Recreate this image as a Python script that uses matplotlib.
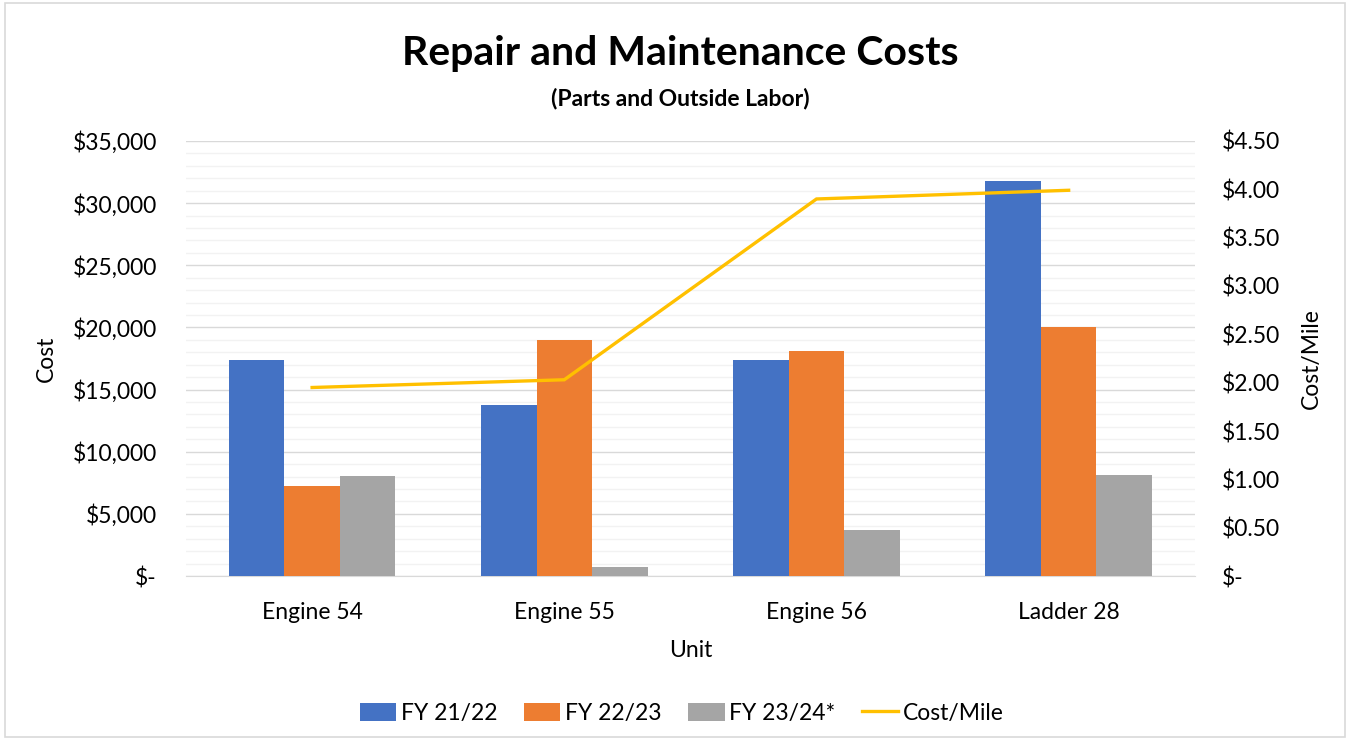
import numpy as np
import matplotlib.pyplot as plt
from matplotlib.ticker import FuncFormatter, MultipleLocator
from matplotlib.patches import Rectangle

plt.rcParams['font.family'] = ['Lato', 'DejaVu Sans']

units = ["Engine 54", "Engine 55", "Engine 56", "Ladder 28"]
fy2122 = [17400, 13750, 17350, 31800]
fy2223 = [7250, 19000, 18100, 20000]
fy2324 = [8050, 700, 3700, 8100]
cost_per_mile = [1.95, 2.03, 3.90, 3.99]
series_names = ["FY 21/22", "FY 22/23", "FY 23/24*"]
colors = ["#4472C4", "#ED7D31", "#A5A5A5"]

fig = plt.figure(figsize=(13.5, 7.4), dpi=100)
ax = fig.add_axes([0.1378, 0.2216, 0.7472, 0.5879])
ax2 = ax.twinx()

x = np.arange(len(units))
w = 0.22
handles = []
for i, (vals, name, c) in enumerate(zip([fy2122, fy2223, fy2324], series_names, colors)):
    b = ax.bar(x + (i - 1) * w, vals, w, color=c, label=name, zorder=3)
    handles.append(b)

ln, = ax2.plot(x, cost_per_mile, color="#FFC000", lw=2.4, label="Cost/Mile",
               solid_joinstyle="miter", zorder=4)
handles.append(ln)

ax.set_xlim(-0.5, 3.5)
ax.set_ylim(0, 35000)
ax2.set_ylim(0, 4.5)
ax.yaxis.set_major_locator(MultipleLocator(5000))
ax.yaxis.set_minor_locator(MultipleLocator(1000))
ax2.yaxis.set_major_locator(MultipleLocator(0.5))

ax.grid(axis="y", which="major", color="#D9D9D9", lw=1.0, zorder=0)
ax.grid(axis="y", which="minor", color="#F2F2F2", lw=1.0, zorder=0)
ax.set_axisbelow(True)

ax.yaxis.set_major_formatter(FuncFormatter(lambda v, p: "$-" if v == 0 else f"${v:,.0f}"))
ax2.yaxis.set_major_formatter(FuncFormatter(lambda v, p: "$-" if v == 0 else f"${v:.2f}"))

for a in (ax, ax2):
    for s in a.spines.values():
        s.set_visible(False)
    a.tick_params(which="both", length=0, labelsize=16.5, colors="black")
ax.spines["bottom"].set_visible(True)
ax.spines["bottom"].set_color("#D9D9D9")
ax.tick_params(axis="y", pad=21)
ax2.tick_params(axis="y", pad=19.5)
ax.tick_params(axis="x", pad=19)

ax.set_xticks(x)
ax.set_xticklabels(units)
ax.set_xlabel("Unit", fontsize=16.5, labelpad=12)
ax.set_ylabel("Cost", fontsize=16.5, labelpad=11)
ax2.set_ylabel("Cost/Mile", fontsize=16.5, labelpad=15)

fig.text(0.5038, 0.928, "Repair and Maintenance Costs", ha="center", va="center",
         fontsize=29.5, fontweight="bold")
fig.text(0.5038, 0.867, "(Parts and Outside Labor)", ha="center", va="center",
         fontsize=16.5, fontweight="bold")

fig.legend(handles=handles, labels=series_names + ["Cost/Mile"], loc="center",
           bbox_to_anchor=(0.505, 0.036), ncol=4, frameon=False, fontsize=16.5,
           handlelength=1.6, handleheight=0.8, handletextpad=0.2, columnspacing=1.15)

fig.patches.append(Rectangle((0.004, 0.004), 0.992, 0.992, transform=fig.transFigure,
                             fill=False, edgecolor="#D9D9D9", lw=1.2))

fig.savefig("out.png", dpi=100)
